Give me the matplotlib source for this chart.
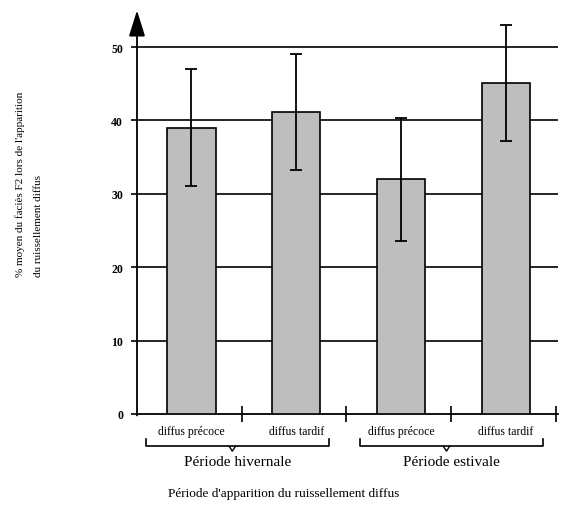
import numpy as np
import matplotlib.pyplot as plt
import matplotlib.transforms as mtransforms

plt.rcParams['font.family'] = ['Liberation Serif', 'DejaVu Serif']

categories = ['diffus précoce', 'diffus tardif', 'diffus précoce', 'diffus tardif']
groups = ['Période hivernale', 'Période estivale']
means = [39.0, 41.2, 32.0, 45.1]
errs = [8.0, 7.9, 8.4, 7.9]
yticks = [0, 10, 20, 30, 40, 50]

fig = plt.figure(figsize=(5.61, 5.10), dpi=100)
ax = fig.add_axes([0.2442, 0.1863, 0.7505, 0.7914])

x = np.arange(len(means)) + 0.52
ax.bar(x, means, width=0.46, color='#bebebe', edgecolor='black', linewidth=1.2, zorder=3)
ax.errorbar(x, means, yerr=errs, fmt='none', ecolor='black', elinewidth=1.3,
            capsize=4.5, capthick=1.3, zorder=4)

# horizontal grid lines (hidden behind the bars)
for v in yticks[1:]:
    ax.axhline(v, color='black', lw=1.2, zorder=1)

ax.set_xlim(0, 4.02)
ax.set_ylim(0, 55)
for s in ['top', 'right', 'left']:
    ax.spines[s].set_visible(False)
ax.spines['bottom'].set_linewidth(1.3)

# y axis with arrow head
ax.annotate('', xy=(0, 55.0), xytext=(0, -0.2), xycoords='data',
            arrowprops=dict(arrowstyle='-|>,head_length=0.8,head_width=0.25',
                            mutation_scale=20, color='black', lw=1.3,
                            shrinkA=0, shrinkB=0), annotation_clip=False)

ax.set_yticks(yticks)
ax.set_yticklabels([str(v) for v in yticks], fontsize=8.5, fontweight='bold')
ax.tick_params(axis='y', length=4, width=1.2, pad=6)
ax.set_xticks([1, 2, 3, 4])
ax.set_xticklabels([])
ax.tick_params(axis='x', direction='inout', length=12, width=1.2)

trans = mtransforms.blended_transform_factory(ax.transData, ax.transAxes)
for xi, c in zip(x, categories):
    ax.text(xi, -0.043, c, transform=trans, ha='center', va='center', fontsize=8.5)

spans = [(0.09, 1.83), (2.13, 3.88)]
for (a, b), g in zip(spans, groups):
    ax.plot([a, a, b, b], [-0.062, -0.080, -0.080, -0.062], transform=trans,
            color='black', lw=1.2, clip_on=False)
    m = (a + b) / 2 - 0.05
    ax.plot([m - 0.03, m, m + 0.03], [-0.080, -0.092, -0.080], transform=trans,
            color='black', lw=1.0, clip_on=False)
    ax.text((a + b) / 2, -0.117, g, transform=trans, ha='center', va='center', fontsize=11)

fig.text(0.506, 0.031, "Période d'apparition du ruissellement diffus",
         ha='center', va='center', fontsize=9.5)
fig.text(0.036, 0.457, "% moyen du faciès F2 lors de l'apparition", rotation=90,
         ha='center', va='bottom', fontsize=8)
fig.text(0.068, 0.457, "du ruissellement diffus", rotation=90,
         ha='center', va='bottom', fontsize=8)

fig.savefig('out.png', dpi=100)
